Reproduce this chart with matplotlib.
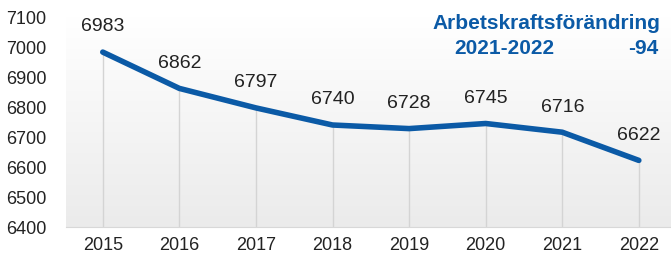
import numpy as np
import matplotlib.pyplot as plt

plt.rcParams['font.family'] = ['Liberation Sans', 'DejaVu Sans']

years = ['2015', '2016', '2017', '2018', '2019', '2020', '2021', '2022']
workforce = [6983, 6862, 6797, 6740, 6728, 6745, 6716, 6622]
yticks = [6400, 6500, 6600, 6700, 6800, 6900, 7000, 7100]

blue = '#0b5aa6'
x = np.arange(len(years))

fig = plt.figure(figsize=(6.71, 2.58), dpi=100)
ax = fig.add_axes([66 / 671, 31 / 258, 605 / 671, 210 / 258])

ax.set_xlim(-0.48, 7.42)
ax.set_ylim(6400, 7100)

# gradient background, white at top to light grey at bottom
grad = np.linspace(0, 1, 256).reshape(-1, 1)
cmap = plt.matplotlib.colors.LinearSegmentedColormap.from_list('bg', ['#ebebeb', '#ffffff'])
ax.imshow(grad, extent=[0, 1, 0, 1], transform=ax.transAxes, cmap=cmap,
          aspect='auto', origin='lower', zorder=0)

# drop lines
ax.vlines(x, 6400, workforce, color='#d4d4d4', lw=1, zorder=1)
ax.plot(x, workforce, color=blue, lw=4, solid_capstyle='round', zorder=3)

for xi, v in zip(x, workforce):
    ax.annotate(str(v), (xi, v), xytext=(0, 12), textcoords='offset points',
                ha='center', va='bottom', fontsize=14, color='#222222')

ax.set_xticks(x)
ax.set_xticklabels(years)
ax.set_yticks(yticks)
ax.tick_params(length=0, labelsize=13, colors='#222222')
ax.tick_params(axis='x', pad=7)
ax.tick_params(axis='y', pad=14)
for s in ['top', 'right', 'left']:
    ax.spines[s].set_visible(False)
ax.spines['bottom'].set_color('#d8d8d8')

fig.text(660 / 671, 1 - 24 / 258, 'Arbetskraftsförändring', ha='right', va='center',
         fontsize=15, fontweight='bold', color=blue)
fig.text(504 / 671, 1 - 48 / 258, '2021-2022', ha='center', va='center',
         fontsize=15, fontweight='bold', color=blue)
fig.text(658 / 671, 1 - 48 / 258, '-94', ha='right', va='center',
         fontsize=15, fontweight='bold', color=blue)

fig.savefig('out.png', dpi=100)
